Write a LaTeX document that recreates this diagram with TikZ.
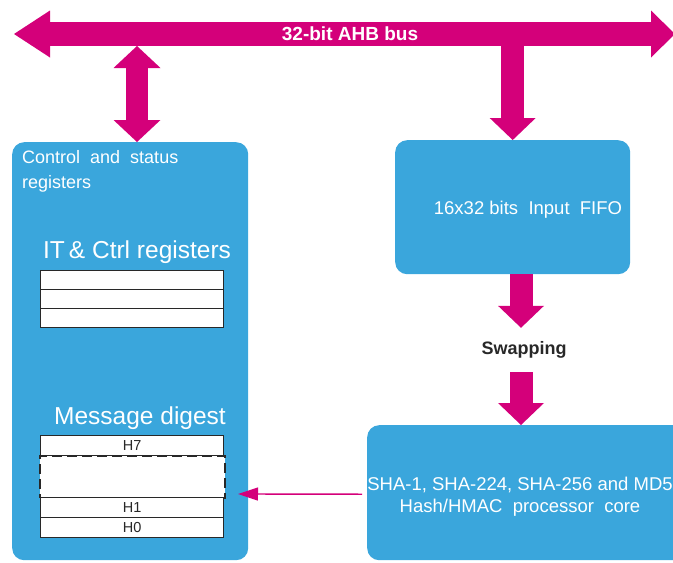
\documentclass[tikz,border=0pt]{standalone}
\usepackage{fontspec}
\setmainfont{Liberation Sans}
\usetikzlibrary{arrows.meta,calc}
\definecolor{mag}{RGB}{212,0,122}
\definecolor{blu}{RGB}{58,166,220}
\definecolor{txtdark}{RGB}{40,40,40}
\begin{document}
\begin{tikzpicture}[x=1pt,y=-1pt,
  blk/.style={fill=blu, draw=none, rounded corners=12pt, inner sep=0pt, anchor=north west},
  wtext/.style={text=white, inner sep=0pt},
  regrow/.style={draw=txtdark, line width=1.2pt, fill=white, minimum width=183pt, inner sep=0pt,
     anchor=north west, font=\fontsize{14.5}{14.5}\selectfont, text=txtdark},
  busarrow/.style={draw=mag, line width=24pt,
     {Triangle[length=36pt,width=47pt,line width=0pt]}-{Triangle[length=24pt,width=47pt,line width=0pt]}},
  dblarrow/.style={draw=mag, line width=22pt,
     {Triangle[length=22pt,width=47pt,line width=0pt]}-{Triangle[length=22pt,width=47pt,line width=0pt]}},
  downarrow/.style={draw=mag, line width=23pt,
     -{Triangle[length=22pt,width=46pt,line width=0pt]}},
  thinarrow/.style={draw=mag, line width=1.4pt,
     -{Triangle[length=20pt,width=13pt]}}
]
\useasboundingbox (0,0) rectangle (673,563);

% blocks
\node[blk, minimum width=236pt, minimum height=418pt] (csr) at (12,142) {};
\node[blk, minimum width=235pt, minimum height=134pt] (fifo) at (395,140) {};
\node[blk, minimum width=330pt, minimum height=135pt] (core) at (367,425) {};

% bus
\coordinate (busL) at (14,34);
\coordinate (busR) at (675,34);
\draw[busarrow] (busL) -- (busR);
\node[wtext, font=\fontsize{19}{19}\selectfont\bfseries] (buslbl) at (350,34) {32-bit AHB bus};

% bus to control/status registers
\coordinate (csrtop) at (137,46);
\draw[dblarrow] (csrtop) -- (csrtop |- csr.north);

% bus to FIFO
\draw[downarrow] (fifo.north |- busL) -- (fifo.north);

% swapping
\node[inner sep=0pt, minimum height=44pt, font=\fontsize{18}{18}\selectfont\bfseries, text=txtdark] (swap) at (524,350) {Swapping};
\draw[downarrow] ($(fifo.south -| swap)+(-3,0)$) -- ($(swap.north)+(-3,0)$);
\draw[downarrow] ($(swap.south)+(-3,0)$) -- ($(core.north -| swap)+(-3,0)$);

% texts in blocks
\node[wtext, anchor=north west, align=left, font=\fontsize{18}{25}\selectfont] (csrlbl) at (22,150) {Control\ \ and\ \ status\\registers};
\node[wtext, font=\fontsize{18.5}{18.5}\selectfont] (fifolbl) at (528,210) {16x32 bits\ \ Input\ \ FIFO};
\node[wtext, align=center, font=\fontsize{18.5}{22}\selectfont] (corelbl) at (520,497) {SHA-1, SHA-224, SHA-256 and MD5\\Hash/HMAC\ \ processor\ \ core};

% IT & Ctrl registers
\node[wtext, font=\fontsize{24.5}{24.5}\selectfont] (itlbl) at (137,252) {IT\,\&\ Ctrl registers};
\node[regrow, minimum height=19pt] (it1) at (40,270) {};
\node[regrow, minimum height=19pt] (it2) at (40,289) {};
\node[regrow, minimum height=19pt] (it3) at (40,308) {};

% Message digest
\node[wtext, font=\fontsize{24.5}{24.5}\selectfont] (mdlbl) at (140,418) {Message digest};
\node[regrow, minimum height=20pt] (h7) at (40,435) {H7};
\node[regrow, minimum height=42pt, dash pattern=on 10pt off 5pt, line width=2.4pt, minimum width=185pt] (hmid) at (39,455) {};
\node[regrow, minimum height=20pt] (h1) at (40,497) {H1};
\node[regrow, minimum height=20pt] (h0) at (40,517) {H0};

% core to digest
\coordinate (digin) at (238,494);
\draw[thinarrow] ($(core.west)+(-5,1.5)$) -- (digin);
\end{tikzpicture}
\end{document}
